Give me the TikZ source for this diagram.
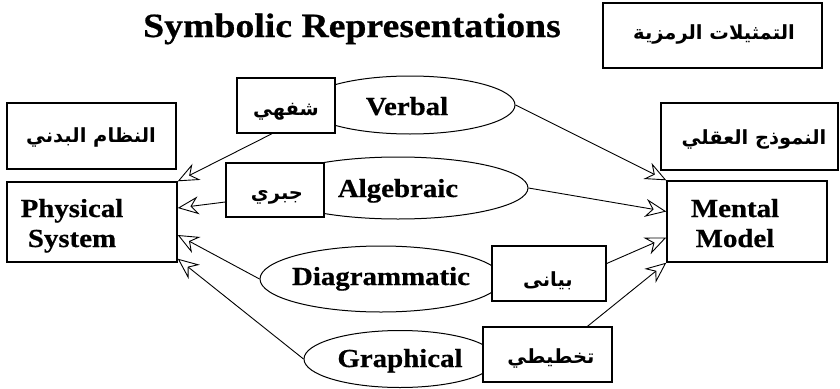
\documentclass[tikz,border=0pt]{standalone}
\usepackage{fontspec}
\setmainfont{Liberation Serif}[FakeStretch=1.11, BoldFeatures={FakeBold=0.6}]
\newfontfamily\arabicfont[Script=Arabic,BoldFont={DejaVu Sans Bold}]{DejaVu Sans}
\TeXXeTstate=1
\usetikzlibrary{arrows.meta,shapes.geometric,calc}
\tikzset{
  box/.style={draw, line width=1.4pt, fill=white, inner sep=0pt},
  oval/.style={draw, ellipse, line width=1pt, inner sep=0pt},
  lbl/.style={font=\fontsize{26}{30}\selectfont\bfseries, anchor=base, inner sep=0pt},
  ttl/.style={font=\fontsize{34}{38}\selectfont\bfseries, anchor=base, inner sep=0pt},
  ar/.style={font=\arabicfont\bfseries\fontsize{19.5}{22}\selectfont, inner sep=0pt},
  arr/.style={line width=0.9pt, -{Stealth[open, length=21pt, width=18pt, inset=7pt]}},
}
\begin{document}
\begin{tikzpicture}[x=1pt,y=-1pt]
\useasboundingbox (0,0) rectangle (840,388);
\fill[white] (0,0) rectangle (840,388);

% ellipses
\node[oval, minimum width=210pt, minimum height=58pt] (E1) at (410,105) {};
\node[oval, minimum width=260pt, minimum height=62pt] (E2) at (398,188) {};
\node[oval, minimum width=242pt, minimum height=66pt] (E3) at (381,279) {};
\node[oval, minimum width=192pt, minimum height=57pt] (E4) at (400,359) {};
\node[lbl] (T1) at (407,115) {Verbal};
\node[lbl] (T2) at (398,197) {Algebraic};
\node[lbl] (T3) at (381,285) {Diagrammatic};
\node[lbl] (T4) at (400,367) {Graphical};

% title
\node[ttl] (title) at (352,37) {Symbolic Representations};

% boxes
\node[box, minimum width=219pt, minimum height=65pt] (BT) at (712.5,35.5) {};
\node[ar] (BTt) at (714,34) {\beginR التمثيلات الرمزية\endR};
\node[box, minimum width=169pt, minimum height=66pt] (BL) at (91.5,136) {};
\node[ar] (BLt) at (91,137) {\beginR النظام البدني\endR};
\node[box, minimum width=177pt, minimum height=67pt] (BR) at (749.5,136.5) {};
\node[ar] (BRt) at (754,139) {\beginR النموذج العقلي\endR};

\node[box, minimum width=170pt, minimum height=80pt] (P) at (92,222) {};
\node[lbl, align=center] (Pt) at (72,247) {Physical\\System};
\node[box, minimum width=160pt, minimum height=81pt] (M) at (747,221.5) {};
\node[lbl, align=center] (Mt) at (735,247) {Mental\\Model};

\node[box, minimum width=98pt, minimum height=55pt] (A1) at (286,105.5) {};
\node[ar] (A1t) at (286,112) {\beginR شفهي\endR};
\node[box, minimum width=98pt, minimum height=54pt] (A2) at (275,190) {};
\node[ar] (A2t) at (277,197) {\beginR جبري\endR};
\node[box, minimum width=114pt, minimum height=55pt] (A3) at (549,273.5) {};
\node[ar] (A3t) at (548,281) {\beginR بيانى\endR};
\node[box, minimum width=129pt, minimum height=55pt] (A4) at (547.5,354.5) {};
\node[ar] (A4t) at (551,358) {\beginR تخطيطي\endR};

% arrows
\draw[arr] ([xshift=-14pt]A1.south) -- (P.north east);
\draw[arr] ([yshift=-12pt]A2.west) -- ([yshift=14pt]P.east);
\draw[arr] (E3.west) -- ([yshift=-13pt]P.east);
\draw[arr] (E4.west) -- ([yshift=4pt]P.south east);
\draw[arr] (E1.east) -- (M.north west);
\draw[arr] (E2.east) -- ([yshift=10pt]M.west);
\draw[arr] ([yshift=10pt]A3.east) -- ([yshift=-16pt]M.west);
\draw[arr] ([xshift=40pt]A4.north) -- (M.south west);
\end{tikzpicture}
\end{document}
